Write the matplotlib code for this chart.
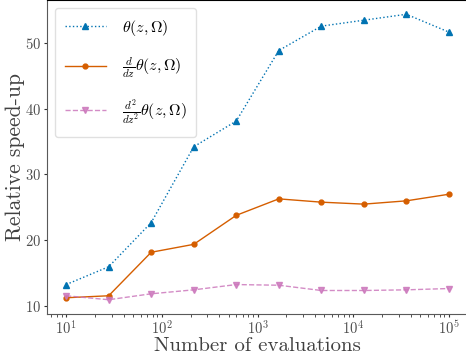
import numpy as np
import matplotlib
matplotlib.use("Agg")
import matplotlib.pyplot as plt

plt.rcParams['font.family'] = ['cmr10', 'DejaVu Serif']
plt.rcParams['mathtext.fontset'] = 'cm'
plt.rcParams['axes.formatter.use_mathtext'] = True

# data
evals = np.logspace(1, 5, 10)
theta = [13.3, 16.0, 22.7, 34.2, 38.1, 48.8, 52.5, 53.4, 54.3, 51.6]
d_theta = [11.3, 11.6, 18.2, 19.4, 23.8, 26.3, 25.8, 25.5, 26.0, 27.0]
d2_theta = [11.6, 11.0, 11.9, 12.5, 13.3, 13.2, 12.4, 12.4, 12.5, 12.7]
labels = [r'$\theta(z,\Omega)$',
          r'$\frac{d}{dz}\theta(z,\Omega)$',
          r'$\frac{d^2}{dz^2}\theta(z,\Omega)$']
colors = ['#0173b2', '#d55e00', '#cc78bc']

fig = plt.figure(figsize=(4.66, 3.54), dpi=100)
ax = fig.add_axes([47/466, 40/354, 421/466, 314/354])

ax.plot(evals, theta, ls=':', marker='^', ms=4, lw=1, color=colors[0], label=labels[0])
ax.plot(evals, d_theta, ls='-', marker='o', ms=3.5, lw=1, color=colors[1], label=labels[1])
ax.plot(evals, d2_theta, ls='--', marker='v', ms=4, lw=1, color=colors[2], alpha=0.85, label=labels[2])

ax.set_xscale('log')
ax.set_yticks([10, 20, 30, 40, 50])
ax.set_xlabel('Number of evaluations', fontsize=15, color='0.25', labelpad=0)
ax.set_ylabel('Relative speed-up', fontsize=15.5, color='0.25', labelpad=0.5)
ax.tick_params(axis='both', labelsize=10.5, labelcolor='0.3', color='0.2', length=2.5, pad=1.5)
ax.tick_params(axis='x', which='minor', length=2, color='0.2')

for side in ['left', 'bottom']:
    ax.spines[side].set_color('0.35')
ax.spines['top'].set_color('black')

leg = ax.legend(loc='upper left', fontsize=11.5, frameon=True, borderpad=0.6,
                labelspacing=1.1, handlelength=2.6, handletextpad=1.0)
leg.get_frame().set_edgecolor('0.85')

fig.savefig('out.png', dpi=100)
